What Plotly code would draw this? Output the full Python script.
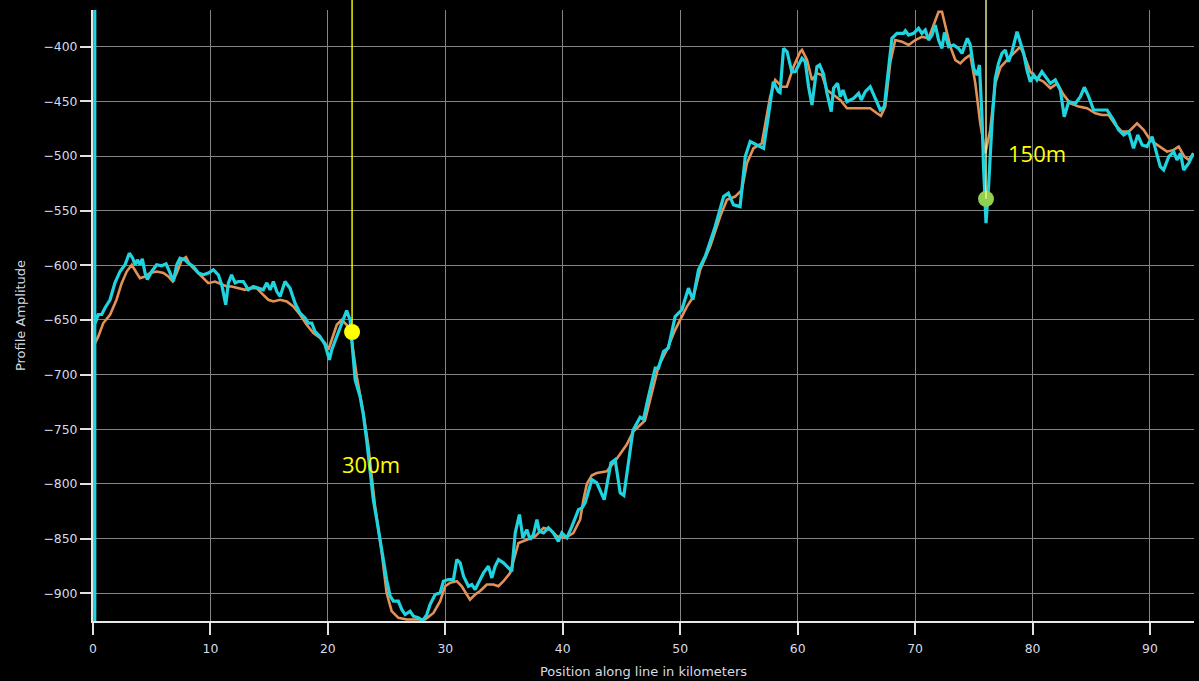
import plotly.graph_objects as go

# ---- data ----
cyan_km = [0.15, 0.15, 0.05, 0.45, 0.74, 1.02, 1.45, 1.87, 2.3, 2.73, 3.09, 3.38, 3.58, 3.78, 4.0, 4.2, 4.43, 4.63,
           5.0, 5.42, 5.85, 6.22, 6.56, 6.84, 7.13, 7.41, 7.84, 8.12, 8.54, 8.97, 9.4, 9.82, 10.25, 10.67, 10.96,
           11.1, 11.3, 11.53, 11.8, 12.1, 12.38, 12.8, 13.23, 13.65, 14.08, 14.5, 14.8, 15.08, 15.36, 15.65, 15.93,
           16.35, 16.78, 17.2, 17.63, 18.06, 18.34, 18.63, 18.9, 19.33, 19.76, 20.13, 20.33, 20.76, 21.18, 21.6,
           21.89, 22.17, 22.32, 22.74, 23.02, 23.3, 23.59, 23.87, 24.16, 24.44, 24.72, 25.0, 25.3, 25.58, 26.0,
           26.3, 26.58, 27.0, 27.28, 27.7, 28.08, 28.42, 28.7, 29.13, 29.56, 29.84, 30.26, 30.69, 30.98, 31.26,
           31.55, 31.97, 32.26, 32.54, 32.82, 33.25, 33.67, 33.96, 34.24, 34.53, 34.95, 35.38, 35.66, 35.95,
           36.31, 36.6, 36.94, 37.22, 37.5, 37.8, 38.0, 38.36, 38.78, 39.2, 39.63, 39.92, 40.35, 40.77, 41.34,
           41.63, 41.9, 42.48, 42.9, 43.53, 44.1, 44.46, 44.89, 45.2, 45.98, 46.59, 46.87, 47.3, 47.87, 48.15,
           48.58, 48.99, 49.57, 50.14, 50.7, 51.08, 51.56, 52.13, 52.98, 53.7, 54.1, 54.54, 55.1, 55.54, 55.96,
           56.53, 57.1, 57.52, 57.93, 58.36, 58.5, 58.8, 59.1, 59.5, 59.8, 60.37, 60.65, 60.93, 61.22, 61.64,
           61.87, 62.2, 62.5, 62.86, 63.06, 63.4, 63.63, 63.86, 64.2, 64.76, 65.19, 65.42, 65.76, 66.18, 66.6,
           67.04, 67.38, 67.7, 68.03, 68.46, 69.02, 69.17, 69.45, 69.87, 70.3, 70.58, 70.87, 71.15, 71.44, 71.72,
           72.0, 72.29, 72.5, 72.86, 73.28, 73.7, 74.0, 74.45, 74.7, 74.99, 75.27, 75.48, 75.7, 75.83, 76.04,
           76.27, 76.55, 76.83, 77.1, 77.4, 77.68, 77.96, 78.25, 78.68, 78.96, 79.25, 79.53, 79.81, 80.1, 80.38,
           80.8, 81.23, 81.52, 81.94, 82.37, 82.7, 83.08, 83.65, 84.07, 84.41, 84.78, 85.2, 85.77, 86.35, 86.9,
           87.33, 87.76, 88.19, 88.6, 88.96, 89.33, 89.75, 90.18, 90.6, 90.88, 91.17, 91.6, 92.02, 92.3, 92.6,
           92.87, 93.3, 93.7]
cyan_amp = [-350, -935, -657, -645, -645, -639, -631.5, -616, -605.6, -599.5, -588.9, -593.4, -599.5, -595, -599.5,
            -594, -607, -613, -605.6, -599.5, -600.4, -598.6, -607, -614.8, -599.5, -593.4, -595, -598, -601, -607,
            -608.7, -607, -604, -608.7, -617.8, -627, -636, -616, -608.7, -616, -614.8, -614.8, -622.4, -619.4,
            -620.9, -622.4, -616, -622.4, -614.8, -624, -628.5, -614.8, -621, -634.5, -643.7, -648.3, -652.8,
            -652.8, -660.5, -665, -672.7, -686.4, -677.2, -665, -652.8, -641.3, -650, -683.4, -704.7, -720,
            -736.7, -759.5, -790, -814.4, -832.6, -851, -869.2, -887.5, -902.7, -907.3, -907.3, -915, -919.5,
            -916.4, -921, -922.5, -925, -919.5, -910.3, -901.2, -899.6, -889, -887.5, -887.5, -869.2, -872.2,
            -884.5, -893.6, -892, -896.6, -890.5, -881.4, -875.3, -886, -875.3, -869.2, -872.2, -876.8, -879.9,
            -844.8, -828, -849.3, -841.8, -850.9, -846.3, -832.6, -843.3, -844.8, -840.2, -844.8, -852.5, -844.8,
            -849.3, -839, -823.5, -822, -817.4, -796, -799, -814.4, -780.8, -777.8, -808.2, -810.5, -751, -739,
            -741, -720, -694, -694, -678.8, -675.7, -646.8, -640.7, -620.9, -631.5, -604.1, -592, -564.5, -537.1,
            -534, -544.7, -546.3, -500.5, -486.8, -489.9, -492.9, -462.5, -432, -441.1, -442, -401.5, -404.6,
            -422.9, -422.9, -410.6, -413.7, -436.6, -453.3, -418.3, -416.7, -425, -442.6, -459.4, -438, -433.5,
            -445.7, -439.6, -450.3, -447.2, -442.6, -448.7, -441.1, -436.6, -447.2, -457.9, -454.8, -424.3,
            -392.3, -387.8, -387.8, -385.4, -389.3, -387.8, -383.2, -387.8, -384.7, -393.9, -389.3, -380.2,
            -393.9, -401.5, -387, -400, -398.4, -401.5, -406.1, -392.3, -398.4, -420, -425.9, -416.7, -465,
            -509.7, -561.4, -526, -470, -429, -415.2, -406.1, -403, -413.7, -404.6, -386.3, -395.4, -406.1,
            -421.3, -432, -425.9, -430.4, -422.9, -428.9, -433.5, -430.4, -439.6, -464, -450.3, -451.8, -445.7,
            -437.1, -445.7, -457.9, -457.9, -457.9, -467, -476.1, -480.7, -477.7, -492.9, -480.7, -489.9, -491.4,
            -482.3, -497.4, -509.7, -512.7, -500.5, -496, -503.6, -497.4, -512.7, -506.6, -497.4]

orange_km = [0.0, 0.45, 0.88, 1.45, 2.0, 2.44, 2.87, 3.3, 3.72, 4.0, 4.43, 4.86, 5.43, 6.0, 6.41, 6.79, 7.13, 7.56,
             7.92, 8.26, 8.83, 9.4, 9.82, 10.39, 10.96, 11.39, 11.8, 12.38, 12.95, 13.37, 13.94, 14.5, 14.93,
             15.36, 15.93, 16.5, 17.06, 17.63, 18.2, 18.77, 19.34, 19.76, 20.04, 20.33, 20.76, 21.18, 21.6, 21.95,
             22.46, 23.02, 23.45, 24.02, 24.59, 25.0, 25.43, 26.0, 26.72, 27.57, 28.28, 28.99, 29.56, 29.98, 30.4,
             30.98, 31.4, 31.83, 32.1, 32.54, 32.96, 33.53, 34.1, 34.52, 34.95, 35.52, 36.23, 36.94, 37.65, 38.36,
             38.93, 39.5, 40.2, 40.9, 41.48, 41.76, 42.05, 42.48, 42.9, 43.75, 44.6, 45.45, 46.0, 47.0, 47.59,
             48.15, 48.87, 49.57, 50.57, 51.13, 51.7, 52.55, 53.4, 53.98, 54.68, 55.25, 55.68, 56.24, 56.95,
             57.66, 58.09, 58.66, 59.08, 59.65, 60.22, 60.37, 60.8, 61.22, 61.64, 62.07, 62.5, 63.06, 63.63, 64.2,
             65.05, 66.18, 66.75, 67.09, 67.46, 67.9, 68.31, 68.88, 69.45, 70.02, 70.58, 71.15, 71.58, 72.0, 72.29,
             72.57, 73.0, 73.43, 73.85, 74.28, 74.7, 75.13, 75.55, 75.98, 76.4, 76.83, 77.26, 77.82, 78.39, 78.96,
             79.39, 79.81, 80.38, 80.95, 81.52, 82.09, 82.65, 83.22, 83.93, 84.64, 85.35, 85.92, 86.48, 87.05,
             87.62, 88.19, 88.9, 89.46, 90.03, 90.88, 91.45, 92.02, 92.45, 92.93, 93.3, 93.7]
orange_amp = [-675, -665, -652.8, -645.2, -631.5, -616.3, -605.7, -599.5, -607, -611.7, -610.2, -607, -605.7, -607,
              -610.2, -614.8, -607, -595, -592.5, -599.5, -605.7, -611.7, -616.3, -614.8, -617.8, -619.4, -619.4,
              -620.9, -622.4, -620.9, -620.9, -627, -631.5, -633.1, -631.5, -633.1, -637.7, -645.2, -654.4, -662,
              -666.5, -671.1, -677.2, -668.1, -654.4, -649.8, -654.4, -662, -701.6, -735, -765.6, -820.5, -863,
              -899.6, -916.4, -922.5, -924, -924, -924, -918, -907.3, -893.6, -890.5, -889, -893.6, -901.2, -905.8,
              -901.2, -898, -892, -892, -893.6, -889, -881.4, -854, -851, -847.9, -840.2, -841.8, -847.9, -849.3,
              -845, -832.6, -814.4, -800, -792, -790, -788.5, -777, -764, -752, -742, -716.8, -692.5, -677.2, -659,
              -637.7, -628.5, -604.1, -582.8, -555.4, -540.1, -537.1, -531, -506.6, -492.9, -488.3, -445.7, -430.4,
              -436.6, -436.6, -418.3, -404.6, -403, -412.2, -430.4, -424.3, -425.9, -439.6, -444.1, -448.7, -456.3,
              -456.3, -456.3, -460.9, -463.3, -454.8, -413.7, -393.9, -395.4, -398.4, -393.9, -390.9, -392.3,
              -380.2, -368, -368, -380.2, -400, -412.2, -415.2, -410.6, -407.6, -433.5, -470, -497.4, -476.1,
              -433.5, -419, -412.2, -406.1, -400, -410.6, -422.9, -428.9, -432, -438, -433.5, -444.1, -451.8,
              -454.8, -456.3, -460.9, -462.5, -462.5, -471.6, -477.7, -477.7, -470, -476.1, -485.3, -491.4, -496,
              -494.4, -491.4, -500.5, -503.6, -497.4]

event_km = [22.06, 76.04]
event_amp = [-661, -539.2]
event_colors = ["#ffff00", "#92d050"]
line_colors = ["#ffff00", "#f2f79a"]
label_text = ["300m", "150m"]
label_km = [23.68, 80.4]
label_amp = [-782, -497]

x_ticks = [0, 10, 20, 30, 40, 50, 60, 70, 80, 90]
y_ticks = [-900, -850, -800, -750, -700, -650, -600, -550, -500, -450, -400]

fig = go.Figure()

fig.add_trace(go.Scatter(x=orange_km, y=orange_amp, mode="lines",
                         line=dict(color="#e39157", width=2.6), hoverinfo="skip"))
fig.add_trace(go.Scatter(x=cyan_km, y=cyan_amp, mode="lines",
                         line=dict(color="#1fd3df", width=3.2), hoverinfo="skip"))

for k, a, lc in zip(event_km, event_amp, line_colors):
    fig.add_shape(type="line", xref="x", yref="y", x0=k, x1=k, y0=a, y1=-300,
                  line=dict(color=lc, width=1.4))
    fig.add_shape(type="line", xref="x", yref="paper", x0=k, x1=k, y0=1, y1=1.03,
                  line=dict(color=lc, width=1.4))

fig.add_trace(go.Scatter(x=event_km, y=event_amp, mode="markers",
                         marker=dict(color=event_colors, size=16, line=dict(width=0)),
                         hoverinfo="skip", cliponaxis=False))

for t, k, a in zip(label_text, label_km, label_amp):
    fig.add_annotation(x=k, y=a, xref="x", yref="y", text=t, showarrow=False,
                       font=dict(family="Open Sans", size=22, color="#ffff00"))

tick_font = dict(family="DejaVu Sans, Verdana, sans-serif", size=12.4, color="#d6dbe6")
title_font = dict(family="DejaVu Sans, Verdana, sans-serif", size=13, color="#d6dbe6")
fig.update_layout(
    width=1199, height=681,
    margin=dict(l=93, r=5, t=10, b=60),
    paper_bgcolor="#000000", plot_bgcolor="#000000",
    showlegend=False,
    font=tick_font,
)
fig.update_xaxes(range=[0, 93.75], tickvals=x_ticks, showgrid=True, gridcolor="#858585", gridwidth=1,
                 zeroline=False, showline=True, linecolor="#e8e8e8", linewidth=2,
                 ticks="outside", ticklen=12, tickcolor="#e0e0e0", tickwidth=2,
                 tickfont=tick_font, ticklabelstandoff=3, automargin=False,
                 title=dict(text="Position along line in kilometers", font=title_font, standoff=12))
fig.update_yaxes(range=[-925.4, -366.4], tickvals=y_ticks, showgrid=True, gridcolor="#858585", gridwidth=1,
                 zeroline=False, showline=True, linecolor="#e8e8e8", linewidth=2,
                 ticks="outside", ticklen=11, tickcolor="#e0e0e0", tickwidth=2,
                 tickfont=tick_font, automargin=False,
                 title=dict(text="Profile Amplitude", font=title_font, standoff=15))

fig.write_html("out.html")
